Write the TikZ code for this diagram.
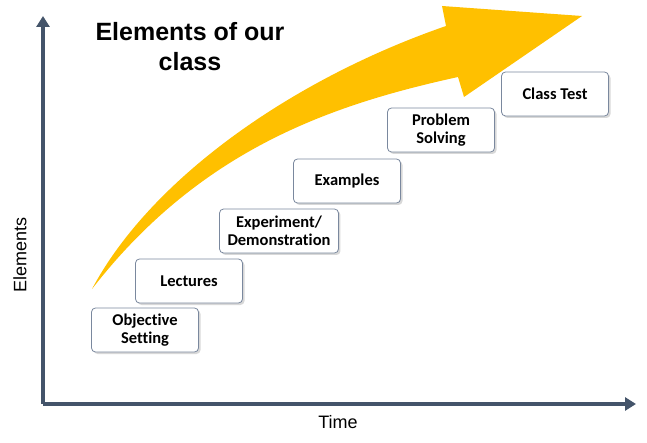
\documentclass[tikz,border=0pt]{standalone}
\usepackage{fontspec}
\setmainfont{Liberation Sans}
\newfontfamily\boxfont[Ligatures={NoCommon}]{Carlito}
\usetikzlibrary{arrows.meta, shadows}

\definecolor{axisblue}{HTML}{44546A}
\definecolor{boxline}{HTML}{7A889E}
\definecolor{arrowgold}{HTML}{FFC000}

\begin{document}
\begin{tikzpicture}[x=1pt, y=-1pt,
      stage/.style={rectangle, draw=boxline, line width=0.8pt, fill=white,
        rounded corners=4pt, minimum width=107pt, minimum height=44pt,
        inner xsep=8pt, align=center, font=\boxfont\bfseries\fontsize{16.5}{18}\selectfont,
        drop shadow={shadow xshift=2pt, shadow yshift=-2pt, fill=gray!60, opacity=0.5}},
      axis/.style={-{Triangle[length=11pt, width=13pt]}, line width=3.5pt, draw=axisblue}
    ]
    \useasboundingbox (0,0) rectangle (647,443);
    % curved arrow
    \fill[arrowgold] (92,289) .. controls (150,180) and (290,80) .. (446,26)
      -- (442,6) -- (582,16) -- (464,97) -- (458,77)
      .. controls (330,105) and (200,150) .. (92,289) -- cycle;
    % axes
    \coordinate (orig) at (43,404);
    \coordinate (ytip) at (43,16);
    \coordinate (xtip) at (636,404);
    \draw[axis] (orig) -- (ytip);
    \draw[axis] (orig) -- (xtip);
    \node[rotate=90, font=\fontsize{18}{20}\selectfont] (ylab) at (20,255) {Elements};
    \node[font=\fontsize{18}{20}\selectfont] (xlab) at (338,422) {Time};
    \node[align=center, font=\bfseries\fontsize{25}{30}\selectfont] (title) at (190,47)
      {Elements of our\\class};
    % stages
    \node[stage] (obj) at (145,330) {Objective\\Setting};
    \node[stage] (lect) at (189,281) {Lectures};
    \node[stage] (expt) at (279,231) {Experiment/\\Demonstration};
    \node[stage] (exmp) at (347,181) {Examples};
    \node[stage] (prob) at (441,130) {Problem\\Solving};
    \node[stage] (test) at (555,94) {Class Test};
  \end{tikzpicture}
\end{document}
